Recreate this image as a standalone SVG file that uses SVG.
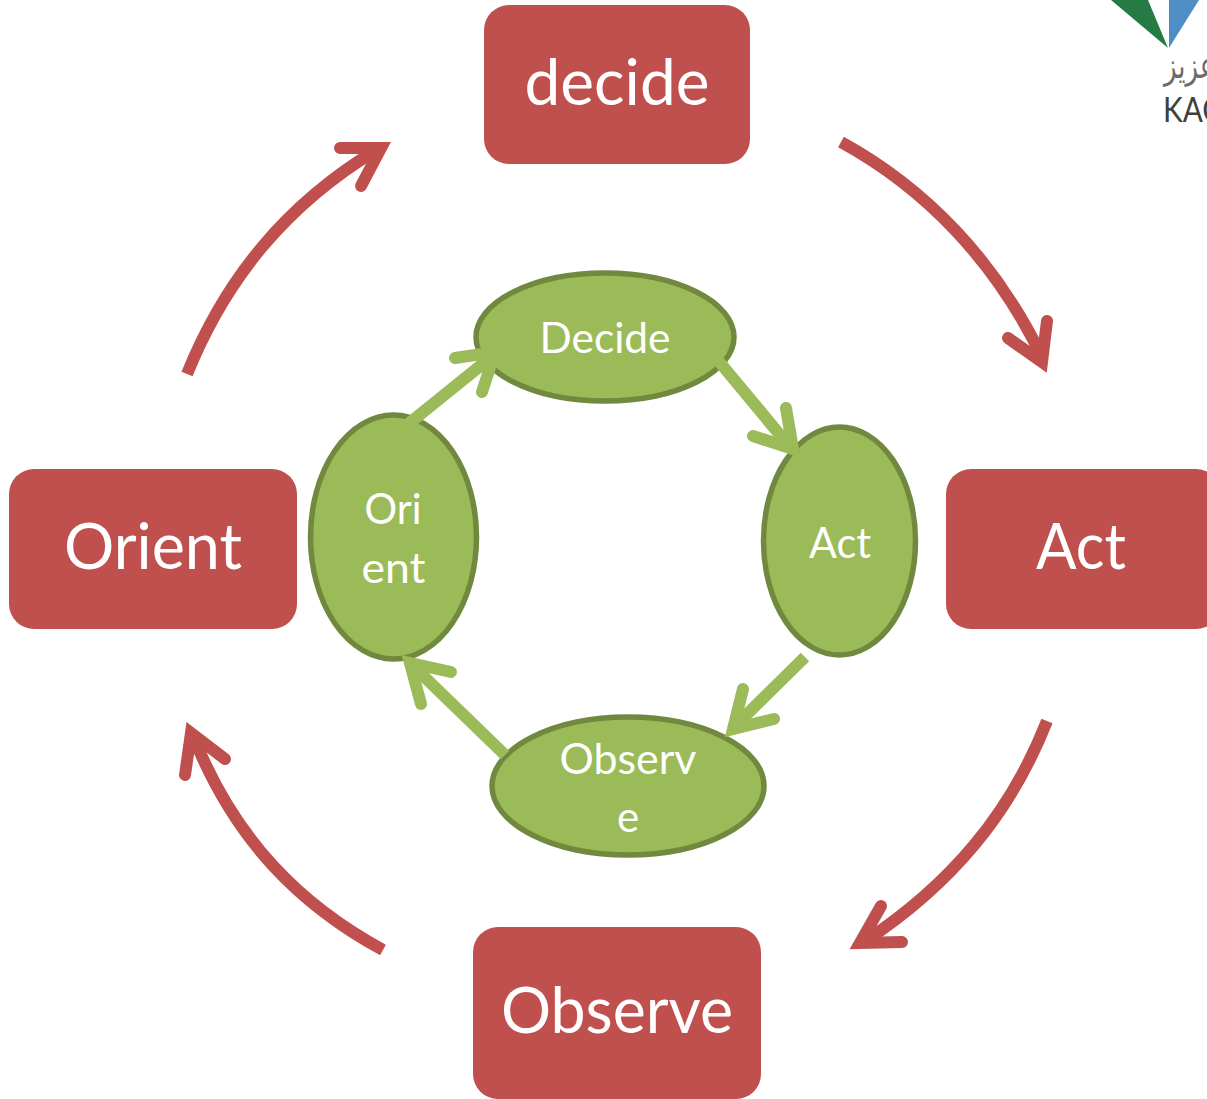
<svg xmlns="http://www.w3.org/2000/svg" width="1207" height="1099" viewBox="0 0 1207 1099">
<style>
.box{fill:#C0504D}
.ell{fill:#9BBB59;stroke:#71893F;stroke-width:5.500}
text{font-family:Lato,"Open Sans",sans-serif;fill:#fff;text-anchor:middle}
.big{font-size:64px}
.small{font-size:42px}
.red{fill:none;stroke:#C0504D;stroke-width:12}
.redh{fill:none;stroke:#C0504D;stroke-width:12;stroke-linecap:round;stroke-linejoin:miter;stroke-miterlimit:10}
.grn{fill:none;stroke:#9BBB59;stroke-width:12}
.grnh{fill:none;stroke:#9BBB59;stroke-width:12;stroke-linecap:round;stroke-linejoin:miter;stroke-miterlimit:10}
</style>
<g id="logo">
<polygon points="1111,0 1148,0 1168,48" fill="#267B45"/>
<polygon points="1169,48 1199,0 1169,0" fill="#4F8EC4"/>
<text transform="translate(1164 78) scale(.72 1)" font-size="36" style="font-family:'DejaVu Sans',sans-serif;fill:#6a6a6a;text-anchor:start">عزيز</text>
<text transform="translate(1163 122) scale(.85 1)" font-size="35" style="fill:#404040;text-anchor:start">KAC</text>
</g>
<g id="node-decide"><rect class="box" x="484" y="5" width="266" height="159" rx="25"/><text class="big" x="617" y="105" textLength="185" lengthAdjust="spacingAndGlyphs">decide</text></g>
<g id="node-act"><rect class="box" x="946" y="469" width="275" height="160" rx="25"/><text class="big" x="1081" y="569" textLength="90" lengthAdjust="spacingAndGlyphs">Act</text></g>
<g id="node-observe"><rect class="box" x="473" y="927" width="288" height="172" rx="25"/><text class="big" x="617" y="1033" textLength="232" lengthAdjust="spacingAndGlyphs">Observe</text></g>
<g id="node-orient"><rect class="box" x="9" y="469" width="288" height="160" rx="25"/><text class="big" x="153" y="569" textLength="178" lengthAdjust="spacingAndGlyphs">Orient</text></g>
<g id="node-inner-decide"><ellipse class="ell" cx="605" cy="337" rx="129" ry="64"/><text class="small" x="605" y="353" textLength="131" lengthAdjust="spacingAndGlyphs">Decide</text></g>
<g id="node-inner-act"><ellipse class="ell" cx="839.500" cy="541" rx="76" ry="114"/><text class="small" x="840" y="558" textLength="62" lengthAdjust="spacingAndGlyphs">Act</text></g>
<g id="node-inner-observe"><ellipse class="ell" cx="628" cy="786" rx="136" ry="69"/><text class="small" x="628" y="774" textLength="137" lengthAdjust="spacingAndGlyphs">Observ</text><text class="small" x="628" y="832">e</text></g>
<g id="node-inner-orient"><ellipse class="ell" cx="393.500" cy="537" rx="83" ry="122"/><text class="small" x="393" y="524" textLength="57" lengthAdjust="spacingAndGlyphs">Ori</text><text class="small" x="393.500" y="583" textLength="64" lengthAdjust="spacingAndGlyphs">ent</text></g>
<g id="connectors">
<path class="red" d="M841 142C925 188 995 260 1042 357"/>
<path class="redh" d="M1047 321L1042 362L1008 338"/>
<path class="red" d="M1047 721C1010 815 950 885 864 942"/>
<path class="redh" d="M881 906L860 943L902 942"/>
<path class="red" d="M383 950C300 905 235 840 194 738"/>
<path class="redh" d="M185 775L191 733L225 759"/>
<path class="red" d="M187 374C225 280 285 205 378 149"/>
<path class="redh" d="M340 148L381 148L361 186"/>
<path class="grn" d="M381 446L495 354"/>
<path class="grnh" d="M455 358L495 352L482 392"/>
<path class="grn" d="M707 347L790 447"/>
<path class="grnh" d="M786 408L793 449L753 436"/>
<path class="grn" d="M805 657L732 729"/>
<path class="grnh" d="M743 689L733 729L774 719"/>
<path class="grn" d="M505 755L410 663"/>
<path class="grnh" d="M421 704L410 663L451 672"/>
</g>
</svg>
